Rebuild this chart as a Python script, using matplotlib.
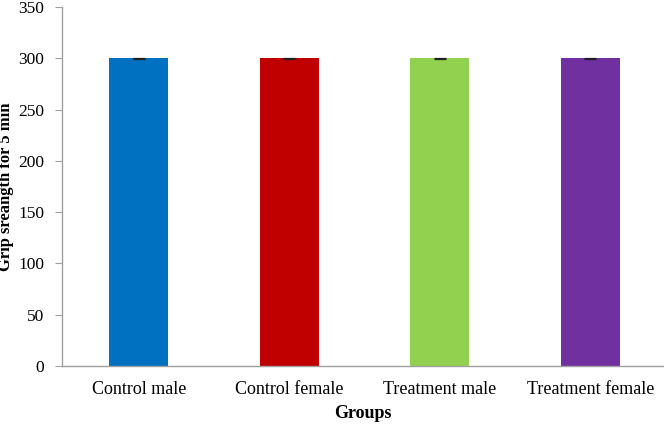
import matplotlib
matplotlib.use("Agg")
import matplotlib.pyplot as plt

categories = ["Control male", "Control female", "Treatment male", "Treatment female"]
values = [300, 300, 300, 300]
errors = [0.3, 0.3, 0.3, 0.3]
colors = ["#0070C0", "#C00000", "#92D050", "#7030A0"]

plt.rcParams['font.family'] = ['Liberation Serif', 'DejaVu Serif']

fig = plt.figure(figsize=(6.64, 4.24), dpi=100)
ax = fig.add_axes([0.0934, 0.1368, 0.9066, 0.8467])

x = range(len(categories))
ax.bar(x, values, width=0.39, color=colors, yerr=errors,
       error_kw=dict(ecolor="#202020", capsize=4, elinewidth=0.8, capthick=0.9))

ax.set_xlim(-0.51, len(categories) - 0.51)
ax.set_ylim(0, 350)
ax.set_yticks(range(0, 351, 50))
ax.set_xticks(list(x))
ax.set_xticklabels(categories, fontsize=13)
ax.tick_params(axis='y', labelsize=12.5, direction='out', length=5, color='#A0A0A0', pad=8)
ax.tick_params(axis='x', length=0, pad=11)

for s in ['top', 'right']:
    ax.spines[s].set_visible(False)
for s in ['left', 'bottom']:
    ax.spines[s].set_color('#A0A0A0')
    ax.spines[s].set_linewidth(1.0)

ax.set_ylabel("Grip sreangth for 5 min", fontsize=12, fontweight='bold')
ax.yaxis.set_label_coords(-0.079, 0.5)
ax.set_xlabel("Groups", fontsize=13, fontweight='bold', labelpad=5)

fig.savefig("out.png", dpi=100)
